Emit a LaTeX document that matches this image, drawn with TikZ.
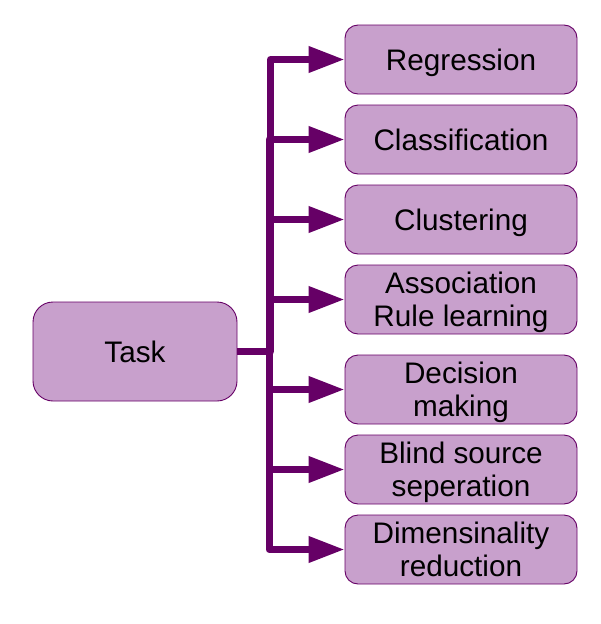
\documentclass[tikz,border=0pt]{standalone}
\usepackage{fontspec}
\setmainfont{Liberation Sans}
\usetikzlibrary{arrows.meta}
\definecolor{boxfill}{HTML}{C8A0CC}
\definecolor{plum}{HTML}{660066}
\begin{document}
\begin{tikzpicture}[x=1pt,y=-1pt,
  taskbox/.style={draw=plum, line width=0.9pt, fill=boxfill, rounded corners=13pt,
    minimum width=232pt, minimum height=69pt, inner sep=0pt, align=center,
    text depth=0pt, font=\fontsize{29.7}{33}\selectfont},
  mainbox/.style={taskbox, minimum width=204pt, minimum height=99pt, rounded corners=20pt},
  conn/.style={draw=plum, line width=7pt, line join=round,
    -{Triangle[length=36pt,width=25pt]}}]
\useasboundingbox (0,0) rectangle (600,624);
\node[mainbox] (task) at (135,351.5) {Task};
\node[taskbox] (b1) at (461,59.5) {Regression};
\node[taskbox] (b2) at (461,139.5) {Classification};
\node[taskbox] (b3) at (461,219.5) {Clustering};
\node[taskbox] (b4) at (461,299.5) {Association\\Rule learning};
\node[taskbox] (b5) at (461,389.5) {Decision\\making};
\node[taskbox] (b6) at (461,469.5) {Blind source\\seperation};
\node[taskbox] (b7) at (461,549.5) {Dimensinality\\reduction};
\coordinate (j1) at (270.5,351.5);
\coordinate (j2) at (269,351.5);
\draw[conn] (task.east) -- (j1) |- (b1.west);
\foreach \b in {b2,b3,b4,b5,b6,b7}{
  \draw[conn] (task.east) -- (j2) |- (\b.west);
}
\end{tikzpicture}
\end{document}
